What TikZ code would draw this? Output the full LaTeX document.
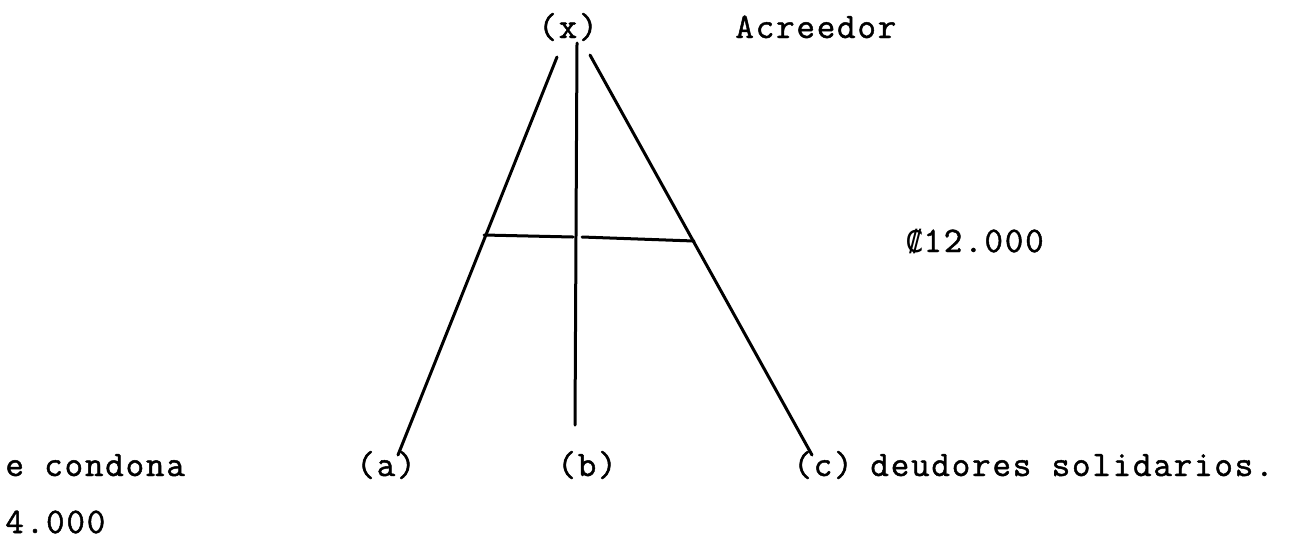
\documentclass[tikz,border=0pt]{standalone}
\usepackage{fontspec}
\setmainfont{Latin Modern Mono}[LetterSpace=5,FakeBold=1.3]
\newfontfamily\symfont{DejaVu Sans Mono}
\begin{document}
\begin{tikzpicture}[x=0.5pt,y=-0.5pt,
  lbl/.style={inner sep=0pt,anchor=base west,font=\fontsize{18pt}{20pt}\selectfont},
  lbc/.style={inner sep=0pt,anchor=base,font=\fontsize{18pt}{20pt}\selectfont},
  stroke/.style={line width=1.5pt,line cap=round}]
\useasboundingbox (0,0) rectangle (1293,542);
% labels
\node[lbc] (x) at (568,38) {(x)};
\node[lbl] (acr) at (735,38) {Acreedor};
\node[lbl] (amt) at (905,252) {{\symfont\fontsize{15pt}{18pt}\selectfont ₡}12.000};
\node[lbl] (cond) at (5,476) {e condona};
\node[lbc] (a) at (386,476) {(a)};
\node[lbc] (b) at (587,476) {(b)};
\node[lbc] (c) at (823,476) {(c)};
\node[lbl] (deu) at (870,476) {deudores solidarios.};
\node[lbl] (four) at (5,533) {4.000};
% line end points
\coordinate (lt) at (557,57);
\coordinate (lb) at (398,455);
\coordinate (mt) at (577,43);
\coordinate (mb) at (575,425);
\coordinate (rt) at (590,55);
\coordinate (rb) at (812,455);
\coordinate (h1) at (484,235);
\coordinate (h2) at (573,237);
\coordinate (h3) at (582,237);
\coordinate (h4) at (694,241);
\draw[stroke] (lt) -- (lb);
\draw[stroke] (mt) -- (mb);
\draw[stroke] (rt) -- (rb);
\draw[stroke] (h1) -- (h2);
\draw[stroke] (h3) -- (h4);
\end{tikzpicture}
\end{document}
